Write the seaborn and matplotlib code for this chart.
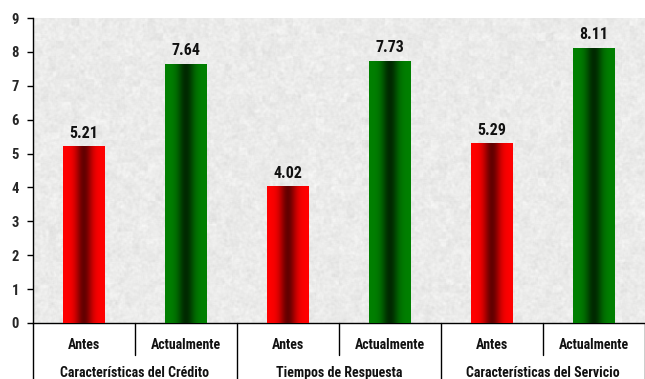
import numpy as np
import pandas as pd
import matplotlib
matplotlib.use("Agg")
import matplotlib.pyplot as plt
import matplotlib.transforms as mtransforms
from matplotlib import font_manager
import seaborn as sns

# Survey scores before and now, per aspect
aspects = ["Características del Crédito", "Tiempos de Respuesta", "Características del Servicio"]
periods = ["Antes", "Actualmente"]
antes = [5.21, 4.02, 5.29]
actual = [7.64, 7.73, 8.11]
yticks = list(range(0, 10))

rows = []
for i, a in enumerate(aspects):
    rows.append({"bar": f"{a}|Antes", "aspect": a, "period": "Antes", "value": antes[i]})
    rows.append({"bar": f"{a}|Actualmente", "aspect": a, "period": "Actualmente", "value": actual[i]})
df = pd.DataFrame(rows)

sns.set_theme(style="white")
avail = {f.name for f in font_manager.fontManager.ttflist}
prefs = ["Liberation Sans Narrow", "Arial Narrow", "Roboto Condensed", "DejaVu Sans Condensed",
         "Open Sans Condensed", "Liberation Sans", "DejaVu Sans"]
family = [f for f in prefs if f in avail]
plt.rcParams["font.family"] = family

fig = plt.figure(figsize=(6.45, 3.79), dpi=100)
fig.patch.set_facecolor("white")
ax = fig.add_axes([33 / 645, 56 / 379, 612 / 645, 305 / 379])

palette = {"Antes": "#ff0000", "Actualmente": "#008000"}
sns.barplot(data=df, x="bar", y="value", hue="period", palette=palette,
            width=0.41, dodge=False, legend=False, ax=ax, zorder=3)

ax.set_xlim(-0.5, 5.5)
ax.set_ylim(0, 9)

# Granite-like background texture
rng = np.random.default_rng(7)
noise = rng.normal(0, 1, (320, 640))
k = np.ones(3) / 3
noise = np.apply_along_axis(lambda r: np.convolve(r, k, mode="same"), 1, noise)
noise = np.apply_along_axis(lambda c: np.convolve(c, k, mode="same"), 0, noise)
blob = rng.normal(0, 1, (40, 80))
blob = np.kron(blob, np.ones((8, 8)))
base = 235 + 9 * noise + 2 * blob
tex = np.clip(np.stack([base, base, base - 1], axis=-1), 0, 255) / 255
ax.imshow(tex, extent=(-0.5, 5.5, 0, 9), aspect="auto", zorder=0, interpolation="bilinear")

# Cylinder-style shading on each bar
edge_cols = {"Antes": (np.array([255, 0, 0]), np.array([100, 0, 0])),
             "Actualmente": (np.array([0, 128, 0]), np.array([0, 42, 0]))}
t = np.linspace(0, 1, 200)
prof = np.exp(-((t - 0.5) / 0.2) ** 2)
for patch in list(ax.patches):
    x0, w, h = patch.get_x(), patch.get_width(), patch.get_height()
    idx = int(round(x0 + w / 2))
    r = df.iloc[idx]
    edge, center = edge_cols[r["period"]]
    cols = edge[None, :] * (1 - prof[:, None]) + center[None, :] * prof[:, None]
    img = (cols / 255)[None, :, :]
    patch.set_facecolor("none")
    patch.set_edgecolor("none")
    ax.imshow(img, extent=(x0, x0 + w, 0, h), aspect="auto", zorder=3, interpolation="bilinear")
    ax.text(x0 + w / 2, h + 0.17, f"{r['value']:.2f}", ha="center", va="bottom",
            fontsize=11.5, fontweight="bold", color="#111111", zorder=4)

ax.set_xlabel("")
ax.set_ylabel("")
ax.set_xticks([])
ax.set_yticks(yticks)
ax.set_yticklabels([str(v) for v in yticks], fontsize=10.5, fontweight="bold")
ax.tick_params(axis="y", direction="out", length=4, width=1, color="black", pad=6, left=True)
for s in ["top", "right"]:
    ax.spines[s].set_visible(False)
for s in ["left", "bottom"]:
    ax.spines[s].set_color("black")
    ax.spines[s].set_linewidth(1)

# Two-level category labels below the axis
tr = mtransforms.blended_transform_factory(ax.transData, ax.transAxes)
for i, a in enumerate(aspects):
    for j, p in enumerate(periods):
        ax.text(2 * i + j, -0.072, p, transform=tr, ha="center", va="center",
                fontsize=10, fontweight="bold", color="#111111")
    ax.text(2 * i + 0.5, -0.164, a, transform=tr, ha="center", va="center",
            fontsize=10, fontweight="bold", color="#111111")
    ax.plot([2 * i + 0.5] * 2, [0, -0.105], transform=tr, color="black", lw=1, clip_on=False)
for xb in [-0.5, 1.5, 3.5, 5.5]:
    ax.plot([xb] * 2, [0, -0.19], transform=tr, color="black", lw=1, clip_on=False)

fig.savefig("out.png", dpi=100)
